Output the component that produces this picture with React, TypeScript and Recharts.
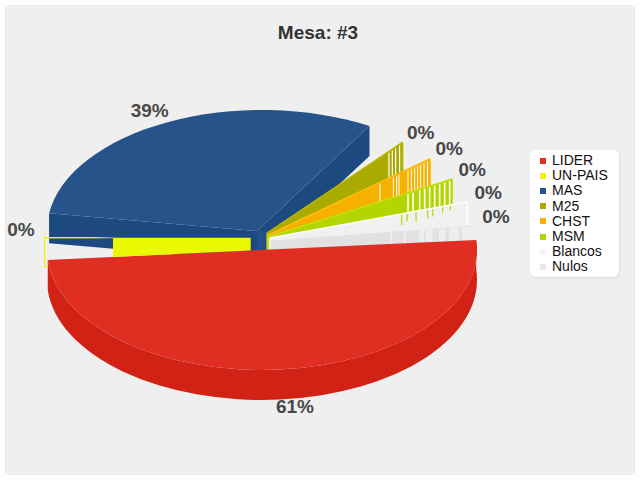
import React from 'react';
import { PieChart, Pie, Legend } from 'recharts';

const legendNames = ['LIDER', 'UN-PAIS', 'MAS', 'M25', 'CHST', 'MSM', 'Blancos', 'Nulos'];
const legendColors = ['#e22f24', '#f0f500', '#26538a', '#aaaa00', '#fdb000', '#b4d600', '#f5f5f5', '#e8e8e8'];

// drawing order, clockwise round the picture, starting at the left edge of MAS
const sliceNames = ['MAS', 'M25', 'CHST', 'MSM', 'Blancos', 'Nulos', 'LIDER', 'UN-PAIS'];
// degrees of sweep each slice occupies in the picture
const sliceSweeps = [112, 22.8, 11.5, 12, 11.3, 2.4, 180, 8];
// the printed percentages
const slicePercents = [39, 0, 0, 0, 0, 0, 61, 0];

const chartData = sliceNames.map((name, i) => ({
  name,
  sweep: sliceSweeps[i],
  percent: slicePercents[i],
}));

const BG = '#efefef';
const DEPTH = 30;
const RY = 120;
const rad = (d: number) => (d * Math.PI) / 180;

type Wedge = {
  fill: string;
  edge: string;
  apex: [number, number];
  tipLead?: number;
  gaps?: [number, number][];
  stubs?: [number, number][];
  bands?: [number, number][];
  sideEdge?: string;
  depth?: number;
  nudge: [number, number];
};

const wedges: Record<string, Wedge> = {
  M25: {
    fill: '#aaaa00', edge: '#b8b800', apex: [5, -7], tipLead: 11.8, sideEdge: '#b8b800', nudge: [18, -10],
    gaps: [[-14.4, 1.2], [-11, 1.2], [-7.7, 1.2], [-3.7, 1.2]],
  },
  CHST: {
    fill: '#f5b000', edge: '#fdbb10', apex: [6, -5], sideEdge: '#fdbb10', nudge: [19, -10],
    gaps: [[-50.7, 1], [-37.3, 1], [-34, 1], [-31.7, 1], [-22.7, 1], [-19.3, 1], [-16, 1], [-13, 1], [-10, 1], [-6.7, 1], [-3.3, 1]],
  },
  MSM: {
    fill: '#b4d600', edge: '#c4e010', apex: [6, -3], sideEdge: '#c4e010', nudge: [20, -9],
    gaps: [[-45, 1.6], [-40, 1.6], [-33.4, 1.6], [-28.4, 1.6], [-23.4, 1.6], [-18.4, 1.6], [-13.4, 1.6], [-8.4, 1.6], [-3.4, 1.6]],
  },
  Blancos: {
    fill: '#f0f0f0', edge: '#ffffff', apex: [8, -2], sideEdge: '#ffffff', nudge: [21, -10],
    stubs: [[-66, 11], [-60.7, 8], [-51.7, 10], [-40, 9], [-35, 8], [-25, 6], [-17.4, 5]],
  },
  Nulos: {
    fill: '#e1e1e1', edge: '#f0f0f0', apex: [8, 0], depth: 24, nudge: [23, -9],
    bands: [[-82.3, 1.6], [-69, 1.7], [-54, 5], [-47.3, 6.6], [-34, 6.7], [-24, 10], [-11, 11]],
  },
};

const labelNudges: Record<string, [number, number]> = {
  MAS: [-18, -12],
  LIDER: [15, 37],
  'UN-PAIS': [-26.5, -2.6],
};

const onEllipse = (cx: number, cy: number, rx: number, ry: number, t: number): [number, number] => [
  cx + rx * Math.cos(rad(t)),
  cy - ry * Math.sin(rad(t)),
];

const poly = (pts: [number, number][]) => pts.map((p) => p.join(',')).join(' ');

const tipOf = (w: Wedge, p: any): [number, number] => {
  const t = p.startAngle - (w.tipLead ?? 0);
  return onEllipse(p.cx, p.cy - 10, p.outerRadius * 0.982, RY * 0.982, t);
};

const drawMas = (p: any) => {
  const { cx, cy, outerRadius: R, startAngle, endAngle } = p;
  const c = cy - 10;
  const a = onEllipse(cx, c, R, RY, startAngle);
  const b = onEllipse(cx, c, R, RY, endAngle);
  const apex: [number, number] = [cx - 5, cy - 9];
  const down = (q: [number, number]): [number, number] => [q[0], q[1] + DEPTH];
  return (
    <g>
      <polygon points={poly([a, down(a), down(apex), apex])} fill="#1c4a80" />
      <polygon points={poly([apex, b, down(b), down(apex)])} fill="#1c4a80" />
      <polygon points={poly([apex, [apex[0] + 10, apex[1] + 1], [apex[0] + 10, apex[1] + DEPTH], down(apex)])} fill="#21508a" />
      <path d={`M${apex[0]},${apex[1]} L${a[0]},${a[1]} A${R},${RY} 0 0 1 ${b[0]},${b[1]} Z`} fill="#26538a" />
    </g>
  );
};

const drawLider = (p: any) => {
  const { cx, cy, outerRadius: R, startAngle, endAngle } = p;
  const c = cy + 10;
  const a = onEllipse(cx, c, R, RY, startAngle + 4.8);
  const b = onEllipse(cx, c, R, RY, endAngle + 4.8);
  return (
    <g>
      <path
        d={`M${a[0]},${a[1]} A${R},${RY} 0 0 1 ${b[0]},${b[1]} L${b[0]},${b[1] + DEPTH} A${R},${RY} 0 0 0 ${a[0]},${a[1] + DEPTH} Z`}
        fill="#d22115"
      />
      <path d={`M${a[0]},${a[1]} A${R},${RY} 0 0 1 ${b[0]},${b[1]} Z`} fill="#e02e22" />
    </g>
  );
};

const drawYellow = (p: any) => {
  const { cx, cy } = p;
  const redEdge = (x: number) => cy + 20 * (cx + 215 - x) / 430;
  const left = cx - 215;
  const top = cy - 2.3;
  const blockL = cx - 149;
  const blockR = cx - 11.3;
  return (
    <g>
      <defs>
        <linearGradient id="yellowFade" x1="0" x2="1" y1="0" y2="0">
          <stop offset="0" stopColor="#f0f500" />
          <stop offset="0.7" stopColor="#f0f500" />
          <stop offset="1" stopColor="#6f9a50" />
        </linearGradient>
      </defs>
      <polygon points={poly([[blockL, top], [blockR, top], [blockR, redEdge(blockR)], [blockL, redEdge(blockL)]])} fill="#eaf900" />
      <rect x={left - 3} y={top - 0.7} width={blockL - left + 3} height={1.4} fill="url(#yellowFade)" />
      <rect x={left - 3} y={top} width={1.2} height={29.5} fill="#f0f500" />
      <rect x={left - 3} y={top + 28.5} width={3.5} height={1.2} fill="#f0f500" />
    </g>
  );
};

const drawWedge = (p: any, w: Wedge) => {
  const { cx, cy } = p;
  const tip = tipOf(w, p);
  const apex: [number, number] = [cx + w.apex[0], cy + w.apex[1]];
  const depth = w.depth ?? DEPTH;
  const edgeY = (x: number) => apex[1] + ((tip[1] - apex[1]) * (x - apex[0])) / (tip[0] - apex[0]);
  const low: [number, number] = [tip[0], tip[1] + depth];
  return (
    <g>
      <polygon points={poly([apex, tip, low, [apex[0], apex[1] + DEPTH]])} fill={w.fill} />
      {(w.gaps ?? []).map(([dx, wd], i) => (
        <rect key={i} x={tip[0] + dx} y={edgeY(tip[0] + dx) + 1} width={wd} height={depth + 4} fill="#fff" />
      ))}
      {(w.bands ?? []).map(([dx, wd], i) => (
        <rect key={i} x={tip[0] + dx} y={edgeY(tip[0] + dx) + 1} width={wd} height={depth} fill="#eeeeee" />
      ))}
      {(w.stubs ?? []).map(([dx, len], i) => (
        <rect key={i} x={tip[0] + dx} y={edgeY(tip[0] + dx)} width={1.2} height={len} fill="#b4d600" />
      ))}
      <line x1={apex[0]} y1={apex[1]} x2={tip[0]} y2={tip[1]} stroke={w.edge} strokeWidth={1.5} />
      <line x1={apex[0]} y1={apex[1]} x2={apex[0]} y2={apex[1] + DEPTH} stroke={w.edge} strokeWidth={1.5} />
      {w.sideEdge ? <line x1={tip[0]} y1={tip[1]} x2={low[0]} y2={low[1]} stroke={w.sideEdge} strokeWidth={1.3} /> : null}
    </g>
  );
};

const drawSlice = (p: any) => {
  const name = p.name ?? p.payload?.name;
  if (name === 'MAS') return drawMas(p);
  if (name === 'LIDER') return drawLider(p);
  if (name === 'UN-PAIS') return drawYellow(p);
  return drawWedge(p, wedges[name]);
};

const drawLabel = (p: any) => {
  const name = p.name ?? p.payload?.name;
  const w = wedges[name];
  let x: number;
  let y: number;
  if (w) {
    const tip = tipOf(w, p);
    x = tip[0] + w.nudge[0];
    y = tip[1] + w.nudge[1];
  } else {
    const mid = (p.startAngle + p.endAngle) / 2;
    const q = name === 'MAS'
      ? onEllipse(p.cx, p.cy - 10, p.outerRadius, RY, mid)
      : name === 'LIDER'
        ? onEllipse(p.cx, p.cy + 10, p.outerRadius, RY, mid + 4.8)
        : onEllipse(p.cx, p.cy, p.outerRadius, RY, mid);
    x = q[0] + labelNudges[name][0];
    y = q[1] + labelNudges[name][1];
  }
  return (
    <text
      x={x}
      y={y}
      textAnchor="middle"
      dominantBaseline="central"
      fontFamily="'Liberation Sans', Arial, sans-serif"
      fontWeight="bold"
      fontSize={19}
      fill="#484848"
    >
      {`${p.payload?.percent ?? 0}%`}
    </text>
  );
};

const LegendBox = () => (
  <div
    style={{
      width: 89,
      height: 127,
      background: '#fff',
      borderRadius: 6,
      boxShadow: '1px 1px 2px rgba(0,0,0,0.08)',
      boxSizing: 'border-box',
      paddingTop: 3,
    }}
  >
    {legendNames.map((n, i) => (
      <div key={n} style={{ height: 15.2, display: 'flex', alignItems: 'center', fontFamily: "'Liberation Sans', Arial, sans-serif", fontSize: 14, color: '#111', lineHeight: '15px' }}>
        <span style={{ width: 6, height: 6, marginLeft: 9.5, marginRight: 6.5, background: legendColors[i], display: 'inline-block' }} />
        {n}
      </div>
    ))}
  </div>
);

export default function App() {
  return (
    <div style={{ position: 'absolute', left: 0, top: 0, width: 640, height: 480, background: '#fdfdfd' }}>
      <div
        style={{
          position: 'absolute', left: 5, top: 5, width: 630, height: 470, boxSizing: 'border-box',
          background: BG, border: '1.5px solid #e8e8e8', borderRadius: 6,
        }}
      />
      <div
        style={{
          position: 'absolute', left: 0, width: 636, top: 22, textAlign: 'center',
          fontFamily: "'Liberation Sans', Arial, sans-serif", fontWeight: 'bold', fontSize: 19, color: '#333', lineHeight: '22px',
        }}
      >
        Mesa: #3
      </div>
      <div style={{ position: 'absolute', left: 0, top: 0 }}>
        <PieChart width={640} height={480} margin={{ top: 0, right: 0, bottom: 0, left: 0 }}>
          <Pie
            data={chartData}
            dataKey="sweep"
            nameKey="name"
            cx={262}
            cy={240}
            innerRadius={0}
            outerRadius={215}
            startAngle={172}
            endAngle={-188}
            stroke="none"
            isAnimationActive={false}
            shape={drawSlice}
            label={drawLabel}
            labelLine={false}
          />
          <Legend
            content={<LegendBox />}
            wrapperStyle={{ position: 'absolute', left: 530, top: 150, width: 89, right: 'auto', bottom: 'auto' }}
          />
        </PieChart>
      </div>
    </div>
  );
}
